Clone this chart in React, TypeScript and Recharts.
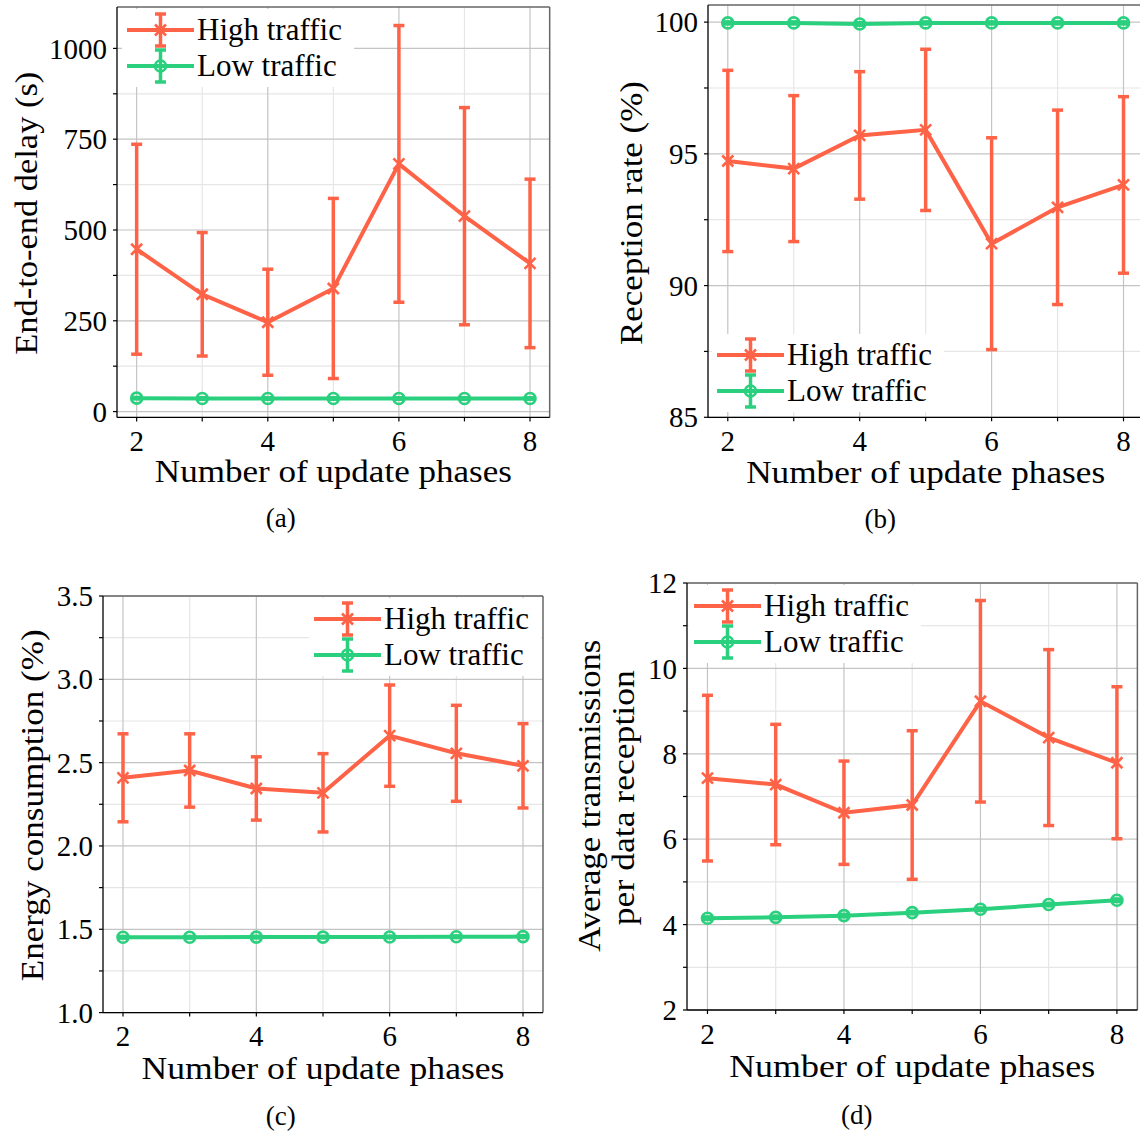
import React from 'react';
import {
  ComposedChart,
  Line,
  XAxis,
  YAxis,
  CartesianGrid,
  ErrorBar,
  ReferenceLine,
  Legend,
  Label,
} from 'recharts';

const RED = '#ff6347';
const GREEN = '#2bd07e';
const FONT = "'Liberation Serif', 'DejaVu Serif', serif";

// x axis: number of update phases
const phases = [2, 3, 4, 5, 6, 7, 8];
const phaseMajor = [2, 4, 6, 8];
const phaseMinor = [3, 5, 7];
const X_DOMAIN: [number, number] = [1.7, 8.3];
const seriesNames = ['High traffic', 'Low traffic'];
const xTitle = 'Number of update phases';

// (a) end-to-end delay
const delayHigh = [447, 323, 246, 339, 682, 538, 408];
const delayHighErr = [289, 170, 146, 248, 381, 299, 232];
const delayLow = [37, 36, 36, 36, 36, 36, 36];
const delayLowErr = [2, 2, 2, 2, 2, 2, 2];
const delayMajor = [0, 250, 500, 750, 1000];
const delayMinor = [125, 375, 625, 875];

// (b) reception rate
const receptionHigh = [94.73, 94.44, 95.7, 95.91, 91.59, 92.97, 93.82];
const receptionHighErr = [3.44, 2.77, 2.42, 3.06, 4.02, 3.69, 3.35];
const receptionLow = [99.97, 99.97, 99.93, 99.97, 99.97, 99.97, 99.97];
const receptionLowErr = [0.04, 0.04, 0.05, 0.04, 0.04, 0.04, 0.04];
const receptionMajor = [85, 90, 95, 100];
const receptionMinor = [87.5, 92.5, 97.5];

// (c) energy consumption
const energyHigh = [2.409, 2.453, 2.345, 2.319, 2.662, 2.556, 2.481];
const energyHighErr = [0.264, 0.22, 0.19, 0.235, 0.304, 0.288, 0.253];
const energyLow = [1.452, 1.452, 1.453, 1.453, 1.454, 1.455, 1.456];
const energyLowErr = [0.005, 0.005, 0.005, 0.005, 0.005, 0.005, 0.005];
const energyMajor = [1.0, 1.5, 2.0, 2.5, 3.0, 3.5];
const energyMinor = [1.25, 1.75, 2.25, 2.75, 3.25];

// (d) transmissions per reception
const txHigh = [7.43, 7.28, 6.62, 6.8, 9.23, 8.38, 7.79];
const txHighErr = [1.94, 1.41, 1.21, 1.74, 2.36, 2.06, 1.78];
const txLow = [4.15, 4.17, 4.21, 4.28, 4.36, 4.47, 4.57];
const txLowErr = [0.03, 0.03, 0.03, 0.03, 0.03, 0.03, 0.03];
const txMajor = [2, 4, 6, 8, 10, 12];
const txMinor = [3, 5, 7, 9, 11];

const AXIS_W = 130;
const AXIS_H = 125;
const PAD_T = 20;
const PAD_R = 10;
const LEGEND_W = 232;
const LEGEND_H = 78;
const TICK_FONT = 29;

type Panel = {
  left: number;
  top: number;
  width: number;
  height: number;
  yDomain: [number, number];
  yMajor: number[];
  yMinor: number[];
  yDigits: number;
  high: number[];
  highErr: number[];
  low: number[];
  lowErr: number[];
  yTitle: { text: string; x: number; cy: number; len: number }[];
  xTitleDy: number;
  xTitleLen: number;
  caption: string;
  captionX: number;
  captionDy: number;
  legendX: number;
  legendY: number;
};

const panels: Panel[] = [
  {
    left: 117.3, top: 7.3, width: 432.7, height: 410.4,
    yDomain: [-16, 1114], yMajor: delayMajor, yMinor: delayMinor, yDigits: 0,
    high: delayHigh, highErr: delayHighErr, low: delayLow, lowErr: delayLowErr,
    yTitle: [{ text: 'End-to-end delay (s)', x: 37.5, cy: 213.5, len: 283 }],
    xTitleDy: 65, xTitleLen: 357,
    caption: '(a)', captionX: 281, captionDy: 110,
    legendX: 127, legendY: 30.3,
  },
  {
    left: 707.7, top: 5, width: 435.3, height: 412.3,
    yDomain: [85, 100.65], yMajor: receptionMajor, yMinor: receptionMinor, yDigits: 0,
    high: receptionHigh, highErr: receptionHighErr, low: receptionLow, lowErr: receptionLowErr,
    yTitle: [{ text: 'Reception rate (%)', x: 642, cy: 213, len: 264 }],
    xTitleDy: 65.4, xTitleLen: 359,
    caption: '(b)', captionX: 880, captionDy: 110.7,
    legendX: 717, legendY: 355,
  },
  {
    left: 103.3, top: 595.7, width: 440, height: 416.6,
    yDomain: [1.0, 3.5], yMajor: energyMajor, yMinor: energyMinor, yDigits: 1,
    high: energyHigh, highErr: energyHighErr, low: energyLow, lowErr: energyLowErr,
    yTitle: [{ text: 'Energy consumption (%)', x: 43, cy: 805, len: 352 }],
    xTitleDy: 66.7, xTitleLen: 363,
    caption: '(c)', captionX: 281, captionDy: 112,
    legendX: 314, legendY: 619,
  },
  {
    left: 687.3, top: 583.3, width: 450.4, height: 427,
    yDomain: [2, 12], yMajor: txMajor, yMinor: txMinor, yDigits: 0,
    high: txHigh, highErr: txHighErr, low: txLow, lowErr: txLowErr,
    yTitle: [
      { text: 'Average transmissions', x: 600, cy: 796, len: 312 },
      { text: 'per data reception', x: 634, cy: 798, len: 255 },
    ],
    xTitleDy: 66.7, xTitleLen: 366,
    caption: '(d)', captionX: 857, captionDy: 114,
    legendX: 694, legendY: 606,
  },
];

function CrossMark({ cx, cy }: { cx: number; cy: number }) {
  const s = 5.5;
  return (
    <g stroke={RED} strokeWidth={2.6}>
      <line x1={cx - s} y1={cy - s} x2={cx + s} y2={cy + s} />
      <line x1={cx - s} y1={cy + s} x2={cx + s} y2={cy - s} />
    </g>
  );
}

function CircleMark({ cx, cy }: { cx: number; cy: number }) {
  return <circle cx={cx} cy={cy} r={5.5} fill="none" stroke={GREEN} strokeWidth={2.6} />;
}

const crossDot = (props: any) => {
  if (props.cx == null || props.cy == null) return <g key={props.key} />;
  return <CrossMark key={props.key} cx={props.cx} cy={props.cy} />;
};

const circleDot = (props: any) => {
  if (props.cx == null || props.cy == null) return <g key={props.key} />;
  return <CircleMark key={props.key} cx={props.cx} cy={props.cy} />;
};

// tick labels drawn as plain serif text; minor ticks get no label
function makeXTick(major: number[]) {
  return (props: any) => {
    const v = props.payload?.value;
    if (!major.includes(v)) return <g />;
    return (
      <text x={props.x} y={props.y} dy="0.71em" textAnchor="middle" fontSize={TICK_FONT} fontFamily={FONT} fill="#000">
        {String(v)}
      </text>
    );
  };
}

function makeYTick(major: number[], digits: number) {
  return (props: any) => {
    const v = props.payload?.value;
    if (!major.includes(v)) return <g />;
    return (
      <text x={props.x} y={props.y} dy="0.35em" textAnchor="end" fontSize={TICK_FONT} fontFamily={FONT} fill="#000">
        {Number(v).toFixed(digits)}
      </text>
    );
  };
}

function LegendBox() {
  const rows = [
    { name: seriesNames[0], color: RED, y: 21 },
    { name: seriesNames[1], color: GREEN, y: 57 },
  ];
  const hx1 = 5;
  const hx2 = 72;
  const mid = (hx1 + hx2) / 2;
  return (
    <svg width={LEGEND_W} height={LEGEND_H} style={{ display: 'block' }}>
      <rect x={0} y={0} width={LEGEND_W} height={LEGEND_H} fill="#fff" />
      {rows.map((r, i) => (
        <g key={r.name}>
          <line x1={hx1} y1={r.y} x2={hx2} y2={r.y} stroke={r.color} strokeWidth={4} />
          <g stroke={r.color} strokeWidth={3.5}>
            <line x1={mid} y1={r.y - 16} x2={mid} y2={r.y + 16} />
            <line x1={mid - 5.5} y1={r.y - 16} x2={mid + 5.5} y2={r.y - 16} />
            <line x1={mid - 5.5} y1={r.y + 16} x2={mid + 5.5} y2={r.y + 16} />
          </g>
          {i === 0 ? <CrossMark cx={mid} cy={r.y} /> : <CircleMark cx={mid} cy={r.y} />}
          <text x={75} y={r.y + 10} fontSize={31} fontFamily={FONT} fill="#000">
            {r.name}
          </text>
        </g>
      ))}
    </svg>
  );
}

function PanelChart({ p }: { p: Panel }) {
  const ox = p.left - AXIS_W;
  const oy = p.top - PAD_T;
  const data = phases.map((phase, i) => ({
    phase,
    high: p.high[i],
    highErr: p.highErr[i],
    low: p.low[i],
    lowErr: p.lowErr[i],
  }));
  const yTicks = [...p.yMajor, ...p.yMinor].sort((a, b) => a - b);
  const bottom = p.top + p.height - oy;

  const renderXTitle = () => (
    <g fontFamily={FONT} fill="#000">
      <text
        x={AXIS_W + p.width / 2}
        y={bottom + p.xTitleDy}
        textAnchor="middle"
        fontSize={31}
        textLength={p.xTitleLen}
        lengthAdjust="spacingAndGlyphs"
      >
        {xTitle}
      </text>
      <text x={p.captionX - ox} y={bottom + p.captionDy} textAnchor="middle" fontSize={27}>
        {p.caption}
      </text>
    </g>
  );

  const renderYTitle = () => (
    <g fontFamily={FONT} fill="#000">
      {p.yTitle.map((t) => (
        <text
          key={t.text}
          x={t.x - ox}
          y={t.cy - oy}
          transform={`rotate(-90, ${t.x - ox}, ${t.cy - oy})`}
          textAnchor="middle"
          fontSize={31}
          textLength={t.len}
          lengthAdjust="spacingAndGlyphs"
        >
          {t.text}
        </text>
      ))}
    </g>
  );

  return (
    <div style={{ position: 'absolute', left: ox, top: oy, fontFamily: FONT }}>
      <ComposedChart
        width={p.width + AXIS_W + PAD_R}
        height={p.height + PAD_T + AXIS_H}
        data={data}
        margin={{ top: PAD_T, right: PAD_R, left: 0, bottom: 0 }}
        style={{ overflow: 'visible', fontFamily: FONT }}
      >
        <CartesianGrid
          horizontalValues={p.yMinor}
          verticalValues={phaseMinor}
          stroke="#e6e6e6"
          strokeWidth={1.2}
        />
        <CartesianGrid
          horizontalValues={p.yMajor}
          verticalValues={phaseMajor}
          stroke="#c4c4c4"
          strokeWidth={1.2}
        />
        <XAxis
          type="number"
          dataKey="phase"
          domain={X_DOMAIN}
          allowDataOverflow
          ticks={phases}
          interval={0}
          height={AXIS_H}
          tick={makeXTick(phaseMajor)}
          tickSize={4}
          tickMargin={9}
          axisLine={{ stroke: '#000', strokeWidth: 1.3 }}
          tickLine={{ stroke: '#000', strokeWidth: 1.2 }}
        >
          <Label content={renderXTitle} />
        </XAxis>
        <YAxis
          type="number"
          domain={p.yDomain}
          allowDataOverflow
          ticks={yTicks}
          interval={0}
          width={AXIS_W}
          tick={makeYTick(p.yMajor, p.yDigits)}
          tickSize={4}
          tickMargin={6}
          axisLine={{ stroke: '#000', strokeWidth: 1.3 }}
          tickLine={{ stroke: '#000', strokeWidth: 1.2 }}
        >
          <Label content={renderYTitle} />
        </YAxis>
        <ReferenceLine y={p.yDomain[1]} stroke="#666" strokeWidth={1.5} ifOverflow="visible" />
        <ReferenceLine x={X_DOMAIN[1]} stroke="#666" strokeWidth={1.5} ifOverflow="visible" />
        <Line
          type="linear"
          dataKey="high"
          name={seriesNames[0]}
          stroke={RED}
          strokeWidth={4}
          dot={crossDot}
          activeDot={false}
          isAnimationActive={false}
        >
          <ErrorBar dataKey="highErr" width={5.5} stroke={RED} strokeWidth={3.5} direction="y" />
        </Line>
        <Line
          type="linear"
          dataKey="low"
          name={seriesNames[1]}
          stroke={GREEN}
          strokeWidth={4}
          dot={circleDot}
          activeDot={false}
          isAnimationActive={false}
        >
          <ErrorBar dataKey="lowErr" width={5.5} stroke={GREEN} strokeWidth={3.5} direction="y" />
        </Line>
        <Legend
          layout="vertical"
          align="center"
          verticalAlign="middle"
          wrapperStyle={{
            left: p.legendX - 5 - ox,
            top: p.legendY - 21 - oy,
            width: LEGEND_W,
            height: LEGEND_H,
          }}
          content={() => <LegendBox />}
        />
      </ComposedChart>
    </div>
  );
}

export default function App() {
  return (
    <div
      style={{
        position: 'absolute',
        left: 0,
        top: 0,
        width: 1140,
        height: 1133,
        overflow: 'hidden',
        background: '#fff',
        fontFamily: FONT,
      }}
    >
      {panels.map((p) => (
        <PanelChart key={p.caption} p={p} />
      ))}
    </div>
  );
}
